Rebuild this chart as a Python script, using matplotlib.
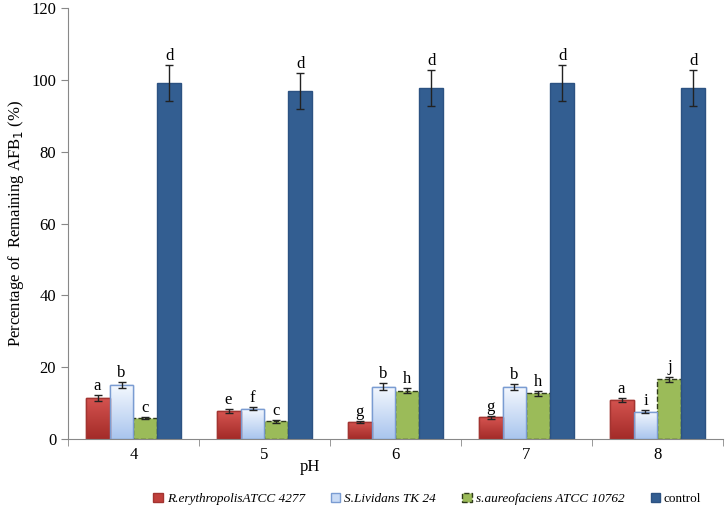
import matplotlib.pyplot as plt
import numpy as np
from matplotlib.colors import LinearSegmentedColormap

plt.rcParams['font.family'] = ['Liberation Serif', 'DejaVu Serif']

ph = ["4", "5", "6", "7", "8"]
series = ["R.erythropolisATCC 4277", "S.Lividans TK 24", "s.aureofaciens ATCC 10762", "control"]
red = [11.5, 7.8, 4.8, 6.0, 10.9]
blue = [15.0, 8.5, 14.6, 14.4, 7.6]
green = [5.8, 5.0, 13.5, 12.7, 16.7]
control = [99.1, 96.9, 97.8, 99.2, 97.8]
red_err = [0.8, 0.5, 0.3, 0.4, 0.6]
blue_err = [0.8, 0.5, 0.9, 0.8, 0.4]
green_err = [0.3, 0.4, 0.6, 0.6, 0.7]
control_err = [5.0, 5.0, 5.0, 5.0, 5.0]
letters = [["a", "b", "c", "d"], ["e", "f", "c", "d"], ["g", "b", "h", "d"],
           ["g", "b", "h", "d"], ["a", "i", "j", "d"]]

fig = plt.figure(figsize=(7.28, 5.16), dpi=100)
ax = fig.add_axes([0.0934, 0.1492, 0.8997, 0.8347])

x = np.arange(len(ph))
w = 0.183
values = [red, blue, green, control]
errs = [red_err, blue_err, green_err, control_err]
faces = ["#C0403C", "#C9DBF5", "#9BBB59", "#335E91"]
edges = ["#A33431", "#7A9CD2", "#2F3B1A", "#2C5282"]
styles = ["solid", "solid", "dashed", "solid"]
# vertical gradients (bottom colour, top colour) for the first two series
grads = {0: ("#A32B28", "#D55450"), 1: ("#A9C5EE", "#F4F8FE")}

for i in range(4):
    pos = x + (i - 1.5) * w
    bars = ax.bar(pos, values[i], w, color=faces[i], edgecolor=edges[i], linewidth=1,
                  linestyle=styles[i], label=series[i], zorder=2)
    if i in grads:
        cmap = LinearSegmentedColormap.from_list("g%d" % i, grads[i])
        for b in bars:
            bx, by = b.get_x(), b.get_y()
            bw, bh = b.get_width(), b.get_height()
            im = ax.imshow(np.linspace(0, 1, 100).reshape(-1, 1), cmap=cmap, origin="lower",
                           extent=[bx, bx + bw, by, by + bh], aspect="auto", zorder=2.1)
            im.set_clip_path(b)
            ax.bar(bx + bw / 2, bh, bw, fill=False, edgecolor=edges[i], linewidth=1, zorder=2.2)
    ax.errorbar(pos, values[i], yerr=errs[i], fmt="none", ecolor="#222222",
                elinewidth=1, capsize=3, capthick=1, zorder=3)
    for j in range(len(ph)):
        ax.text(pos[j], values[i][j] + errs[i][j] + 0.3, letters[j][i],
                ha="center", va="bottom", fontsize=12)

ax.set_xlim(-0.5, 4.5)
ax.set_ylim(0, 120)
ax.set_yticks(range(0, 121, 20))
ax.set_xticks(x)
ax.set_xticklabels(ph, fontsize=12)
ax.set_xticks(np.arange(-0.5, 5, 1), minor=True)
ax.tick_params(axis="x", which="major", length=0, pad=6)
ax.tick_params(axis="x", which="minor", length=5, color="#888888")
ax.tick_params(axis="y", length=5, color="#888888", labelsize=12)
for s in ["top", "right"]:
    ax.spines[s].set_visible(False)
ax.spines["left"].set_color("#888888")
ax.spines["bottom"].set_color("#888888")

ax.set_ylabel("Percentage of  Remaining AFB$_1$ (%)", fontsize=12)
ax.text(0.369, -0.065, "pH", transform=ax.transAxes, ha="center", va="center", fontsize=12)

leg = fig.legend(loc="lower center", bbox_to_anchor=(0.587, -0.002), ncol=4, frameon=False,
                 fontsize=9.5, handlelength=0.7, handleheight=0.7, columnspacing=2.0,
                 handletextpad=0.3)
for t in leg.get_texts()[:3]:
    t.set_style("italic")

fig.savefig("out.png", dpi=100)
